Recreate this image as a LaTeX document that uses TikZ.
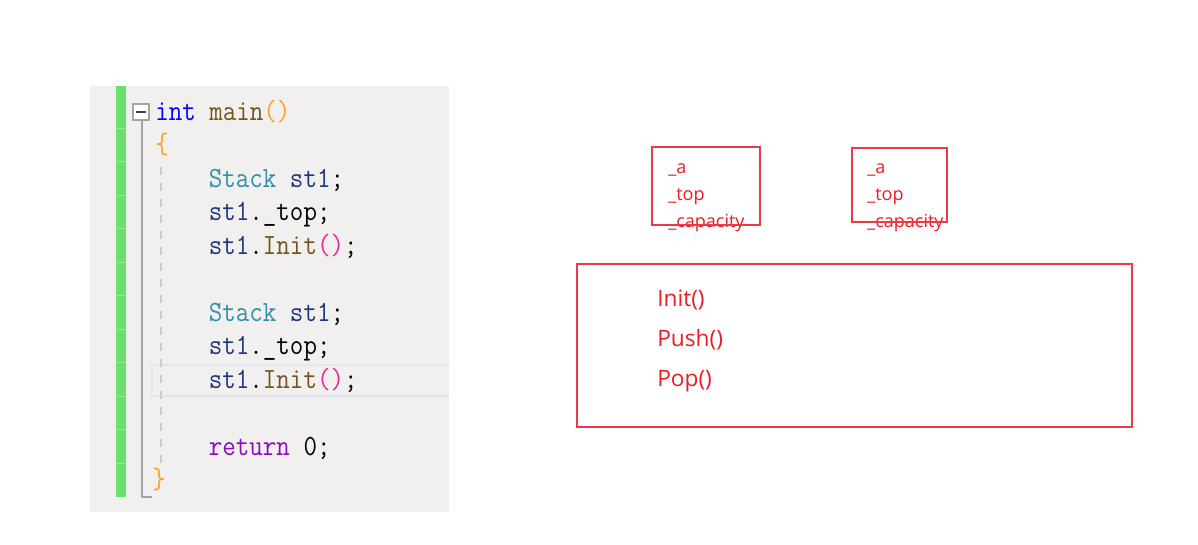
\documentclass[tikz,border=0pt]{standalone}
\usepackage{fontspec}
\newfontfamily\codefont[FakeStretch=0.895]{Latin Modern Mono}
\newfontfamily\uifont{Open Sans}
\definecolor{bgpanel}{RGB}{241,240,238}
\definecolor{gbar}{RGB}{108,224,108}
\definecolor{gsep}{RGB}{150,236,150}
\definecolor{outl}{RGB}{165,165,165}
\definecolor{dashc}{RGB}{204,204,204}
\definecolor{hlc}{RGB}{226,229,240}
\definecolor{kw}{RGB}{0,0,255}
\definecolor{fn}{RGB}{116,83,31}
\definecolor{brA}{RGB}{255,160,40}
\definecolor{brB}{RGB}{240,40,150}
\definecolor{typ}{RGB}{43,145,175}
\definecolor{var}{RGB}{31,55,127}
\definecolor{ret}{RGB}{143,8,196}
\definecolor{boxred}{RGB}{234,58,68}
\definecolor{txtred}{RGB}{238,28,36}
\tikzset{
  codeline/.style={anchor=base west, inner sep=0pt, font=\codefont\fontsize{22pt}{22pt}\selectfont},
  smalltxt/.style={anchor=base west, inner sep=0pt, text=txtred, font=\uifont\fontsize{13.5pt}{13.5pt}\selectfont},
  bigtxt/.style={anchor=base west, inner sep=0pt, text=txtred, font=\uifont\fontsize{17pt}{17pt}\selectfont},
  redbox/.style={draw=boxred, line width=1.5pt}
}
\begin{document}
\begin{tikzpicture}[x=0.75pt,y=-0.75pt]
\useasboundingbox (0,0) rectangle (1198,544);
\fill[white] (0,0) rectangle (1198,544);
% code panel
\fill[bgpanel] (90,86) rectangle (449,512);
\fill[gbar] (116,86) rectangle (126,497);
\foreach \k in {0,...,10} {\draw[gsep, line width=0.6pt] (116,{128+33.5*\k}) -- (126,{128+33.5*\k});}
% current line highlight
\draw[hlc, line width=2pt] (449,365) -- (152,365) -- (152,396) -- (449,396);
% outlining
\draw[outl, line width=1.5pt] (142,120) -- (142,497) -- (152,497);
\draw[dashc, line width=1.5pt, dash pattern=on 6pt off 6pt] (161,167) -- (161,463);
\node[draw=outl, line width=1.3pt, fill=white, minimum size=12pt, inner sep=0pt] (fold) at (141,112) {};
\draw[black!75, line width=1.5pt] ([xshift=-3.6pt]fold.center) -- ([xshift=3.6pt]fold.center);
% code lines
\node[codeline] (l0) at (155,120) {\textcolor{kw}{int} \textcolor{fn}{main}\textcolor{brA}{()}};
\node[codeline] (l1) at (155,153.5) {\textcolor{brA}{\{}};
\node[codeline] (l2) at (208.6,187) {\textcolor{typ}{Stack} \textcolor{var}{st1};};
\node[codeline] (l3) at (208.6,220.5) {\textcolor{var}{st1}.\_top;};
\node[codeline] (l4) at (208.6,254) {\textcolor{var}{st1}.\textcolor{fn}{Init}\textcolor{brB}{()};};
\node[codeline] (l6) at (208.6,321) {\textcolor{typ}{Stack} \textcolor{var}{st1};};
\node[codeline] (l7) at (208.6,354.5) {\textcolor{var}{st1}.\_top;};
\node[codeline] (l8) at (208.6,388) {\textcolor{var}{st1}.\textcolor{fn}{Init}\textcolor{brB}{()};};
\node[codeline] (l10) at (208.6,455) {\textcolor{ret}{return} 0;};
\node[codeline] (l11) at (152,488.5) {\textcolor{brA}{\}}};
% right side
\node[smalltxt] (a1) at (668,173) {\_a};
\node[smalltxt] (t1) at (668,200) {\_top};
\node[smalltxt] (c1) at (668,227) {\_capacity};
\node[smalltxt] (a2) at (867,173) {\_a};
\node[smalltxt] (t2) at (867,200) {\_top};
\node[smalltxt] (c2) at (867,227) {\_capacity};
\draw[redbox] (652,147) rectangle (760,225);
\draw[redbox] (852,148) rectangle (947,222);
\draw[redbox] (577,264) rectangle (1132,427);
\node[bigtxt] (m1) at (657,306) {Init()};
\node[bigtxt] (m2) at (657,346) {Push()};
\node[bigtxt] (m3) at (657,386) {Pop()};
\end{tikzpicture}
\end{document}
